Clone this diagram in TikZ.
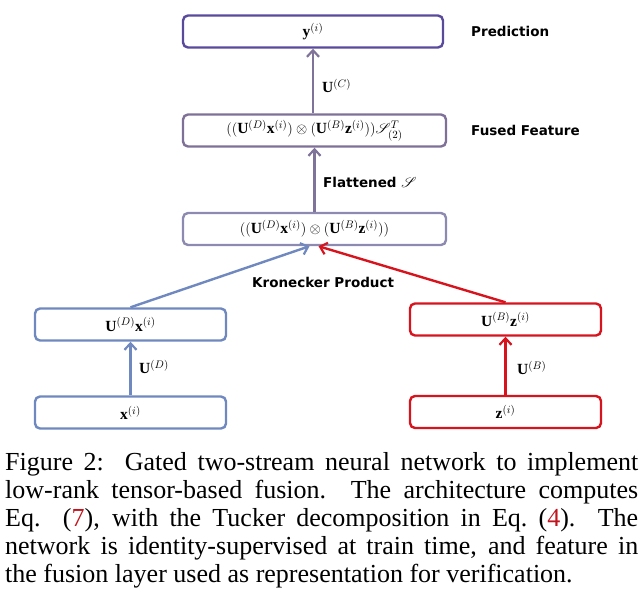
\documentclass[tikz,border=0pt]{standalone}
\usepackage{fontspec}
\usepackage{mathrsfs}
\setmainfont{Liberation Serif}
\newfontfamily\lblfont{DejaVu Sans}
\usetikzlibrary{arrows.meta}
\definecolor{cTop}{HTML}{5A4A9C}
\definecolor{cFused}{HTML}{7E7096}
\definecolor{cMid}{HTML}{8C8AB0}
\definecolor{cBlue}{HTML}{6F88BF}
\definecolor{cRed}{HTML}{D7141E}
\definecolor{cArr}{HTML}{7F7399}
\definecolor{cRef}{HTML}{C0141E}
\begin{document}
\begin{tikzpicture}[x=1pt,y=-1pt,
  box/.style={draw, line width=2.4pt, rounded corners=5pt, minimum height=32pt, inner sep=0pt, font=\fontsize{15.5}{17}\selectfont},
  lbl/.style={font=\lblfont\bfseries\fontsize{13.5}{15}\selectfont, anchor=west, inner sep=0pt},
  wlbl/.style={font=\fontsize{15.5}{17}\selectfont, anchor=west, inner sep=0pt},
  arr/.style={line width=2.4pt, -{Straight Barb[length=6.5pt,width=12pt,line width=2.2pt]}}]
\useasboundingbox (0,0) rectangle (644,608);
\node[box, draw=cTop, minimum width=260pt] (top) at (313,31.5) {$\mathbf{y}^{(i)}$};
\node[box, draw=cFused, minimum width=263pt] (fused) at (314.5,130.5) {$((\mathbf{U}^{(D)}\mathbf{x}^{(i)})\otimes(\mathbf{U}^{(B)}\mathbf{z}^{(i)}))\mathscr{S}_{(2)}^{T}$};
\node[box, draw=cMid, minimum width=263pt] (mid) at (314.5,229) {$((\mathbf{U}^{(D)}\mathbf{x}^{(i)})\otimes(\mathbf{U}^{(B)}\mathbf{z}^{(i)}))$};
\node[box, draw=cBlue, minimum width=191pt] (ux) at (130.5,324.5) {$\mathbf{U}^{(D)}\mathbf{x}^{(i)}$};
\node[box, draw=cBlue, minimum width=191pt] (x) at (130.5,412.5) {$\mathbf{x}^{(i)}$};
\node[box, draw=cRed, minimum width=191pt] (uz) at (505.5,319.5) {$\mathbf{U}^{(B)}\mathbf{z}^{(i)}$};
\node[box, draw=cRed, minimum width=191pt] (z) at (505.5,412) {$\mathbf{z}^{(i)}$};

\node[lbl] (pred) at (471,31.5) {Prediction};
\node[lbl] (ff) at (471,130.5) {Fused Feature};
\node[lbl] (kp) at (252,282) {Kronecker Product};
\node[lbl] (flat) at (323,182) {Flattened $\mathscr{S}$};
\node[wlbl] (uc) at (322,86) {$\mathbf{U}^{(C)}$};
\node[wlbl] (ud) at (139,367) {$\mathbf{U}^{(D)}$};
\node[wlbl] (ub) at (517,368) {$\mathbf{U}^{(B)}$};

\draw[arr, cArr] (fused.north -| top.south) -- (top.south);
\draw[arr, cArr] (mid.north) -- (fused.south);
\draw[arr, cBlue] (ux.north) -- ([xshift=-5pt]mid.south);
\draw[arr, cRed] (uz.north) -- ([xshift=4pt]mid.south);
\draw[arr, cBlue] (x.north) -- (ux.south);
\draw[arr, cRed] (z.north) -- (uz.south);

\node[anchor=north west, inner sep=0pt, text width=633pt, align=justify,
  font=\fontsize{26}{28}\selectfont] (cap) at (5,452) {Figure 2:\ \ Gated two-stream neural network to implement\linebreak low-rank tensor-based fusion.\ \ The architecture computes\linebreak Eq.\ \ (\textcolor{cRef}{7}), with the Tucker decomposition in Eq.~(\textcolor{cRef}{4}).\ \ The\linebreak network is identity-supervised at train time, and feature in\linebreak the fusion layer used as representation for verification.};
\end{tikzpicture}
\end{document}
